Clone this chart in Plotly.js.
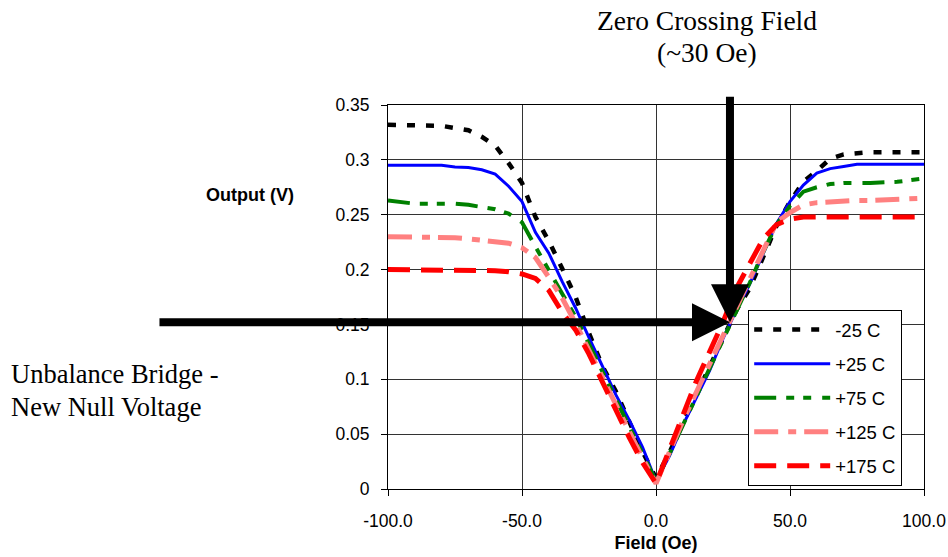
<!DOCTYPE html>
<html>
<head>
<meta charset="utf-8">
<script src="https://cdn.plot.ly/plotly-3.0.1.min.js"></script>
<style>html,body{margin:0;padding:0;background:#fff;}#chart{width:948px;height:557px;}</style>
</head>
<body>
<div id="chart"></div>
<script>
// Field values (Oe)
var field = [-100,-90,-80,-75,-70,-65,-60,-55,-50,-45,-40,-35,-30,-25,-20,-15,-10,-5,0,5,10,15,20,25,30,35,40,45,50,55,60,65,70,75,80,90,100];
// Output (V) per temperature
var outM25 = [0.332,0.332,0.331,0.329,0.327,0.321,0.313,0.297,0.279,0.248,0.226,0.201,0.175,0.142,0.112,0.089,0.062,0.034,0.010,0.033,0.060,0.086,0.111,0.138,0.163,0.183,0.212,0.240,0.262,0.280,0.290,0.301,0.305,0.306,0.307,0.307,0.307];
var outP25 = [0.295,0.295,0.295,0.2935,0.293,0.291,0.287,0.276,0.262,0.234,0.215,0.189,0.165,0.138,0.112,0.086,0.063,0.038,0.007,0.030,0.058,0.083,0.108,0.137,0.163,0.187,0.215,0.242,0.262,0.277,0.288,0.292,0.294,0.296,0.296,0.296,0.296];
var outP75 = [0.263,0.260,0.260,0.260,0.259,0.257,0.255,0.251,0.243,0.221,0.199,0.178,0.157,0.132,0.107,0.082,0.058,0.032,0.007,0.032,0.058,0.084,0.109,0.136,0.161,0.188,0.216,0.241,0.258,0.271,0.275,0.278,0.279,0.279,0.279,0.280,0.283];
var outP125 = [0.230,0.230,0.230,0.229,0.228,0.227,0.226,0.224,0.220,0.211,0.193,0.174,0.151,0.126,0.101,0.077,0.052,0.028,0.005,0.035,0.062,0.088,0.114,0.140,0.166,0.191,0.219,0.243,0.252,0.259,0.261,0.262,0.262,0.263,0.263,0.264,0.265];
var outP175 = [0.200,0.200,0.200,0.200,0.200,0.200,0.199,0.198,0.196,0.192,0.181,0.161,0.145,0.123,0.097,0.071,0.047,0.024,0.005,0.036,0.067,0.098,0.125,0.152,0.183,0.205,0.228,0.241,0.246,0.248,0.248,0.248,0.248,0.248,0.248,0.248,0.248];
var seriesNames = ['-25 C','+25 C','+75 C','+125 C','+175 C'];
var xTickVals = [-100,-50,0,50,100];
var xTickText = ['-100.0','-50.0','0.0','50.0','100.0'];
var yTickVals = [0,0.05,0.1,0.15,0.2,0.25,0.3,0.35];
var yTickText = ['0','0.05','0.1','0.15','0.2','0.25','0.3','0.35'];
var zeroCross = {x: 27.6, y: 0.152};

var sans = 'Liberation Sans, Arial, sans-serif';
var serif = 'Liberation Serif, Times New Roman, serif';

var styles = [
  {color:'#000000', width:4.5, dash:'8px,11px'},
  {color:'#0000FF', width:3, dash:'solid'},
  {color:'#008000', width:4, dash:'22px,10px,8px,9px,8px,11px'},
  {color:'#FF8080', width:5, dash:'24px,10px,8px,8px'},
  {color:'#FF0000', width:5, dash:'22px,11px'}
];
var values = [outM25, outP25, outP75, outP125, outP175];
var traces = values.map(function(v, i){
  return {x: field, y: v, type:'scatter', mode:'lines', name: seriesNames[i],
    legendgroup: 'g'+i, line: styles[i]};
});

function txt(x, y, text, font, xanchor){
  return {xref:'paper', yref:'paper', x:x, y:y, text:text, showarrow:false,
    xanchor: xanchor || 'center', yanchor:'middle', font:font};
}

var layout = {
  width: 948, height: 557,
  margin: {l:388, r:24, t:105, b:68, pad:0},
  paper_bgcolor:'#fff', plot_bgcolor:'#fff',
  font: {family: sans, size: 17.5, color:'#000'},
  showlegend: true,
  legend: {x:0.672, y:0.466, xanchor:'left', yanchor:'top', bgcolor:'#fff', bordercolor:'#000', borderwidth:1,
    font:{family:sans, size:18.5, color:'#000'}, itemwidth:76, traceorder:'grouped', tracegroupgap:7},
  xaxis: {range:[-100,100], tickvals:xTickVals, ticktext:xTickText, showgrid:true, gridcolor:'#333', gridwidth:1,
    zeroline:false, showline:true, linecolor:'#000', linewidth:1, mirror:true, ticks:'outside', ticklen:6, tickcolor:'#000',
    tickfont:{family:sans, size:17.5}, ticklabelstandoff:10,
    title:{text:'<b>Field (Oe)</b>', font:{family:sans, size:18}, standoff:6}},
  yaxis: {range:[0,0.35], tickvals:yTickVals, ticktext:yTickText, showgrid:true, gridcolor:'#333', gridwidth:1,
    zeroline:false, showline:true, linecolor:'#000', linewidth:1, mirror:true, ticks:'outside', ticklen:6, tickcolor:'#000',
    tickfont:{family:sans, size:17.5}, ticklabelstandoff:8},
  annotations: [
    txt(-0.2575, 0.7656, '<b>Output (V)</b>', {family:sans, size:18}),
    txt(0.595, 1.221, 'Zero Crossing Field', {family:serif, size:27.5}),
    txt(0.595, 1.138, '(~30 Oe)', {family:serif, size:27.5}),
    txt(-0.7075, 0.2995, 'Unbalance Bridge -', {family:serif, size:26.5}, 'left'),
    txt(-0.7075, 0.2135, 'New Null Voltage', {family:serif, size:26.5}, 'left'),
    {x:zeroCross.x, y:zeroCross.y, xref:'x', yref:'y', text:'', showarrow:true, axref:'pixel', ayref:'pixel', ax:-572, ay:0,
      arrowhead:2, arrowsize:0.95, arrowwidth:8, arrowcolor:'#000', standoff:0},
    {x:zeroCross.x, y:zeroCross.y, xref:'x', yref:'y', text:'', showarrow:true, axref:'pixel', ayref:'pixel', ax:0, ay:-227,
      arrowhead:2, arrowsize:0.95, arrowwidth:8, arrowcolor:'#000', standoff:0}
  ]
};
Plotly.newPlot('chart', traces, layout, {displayModeBar:false, staticPlot:true});
</script>
</body>
</html>
